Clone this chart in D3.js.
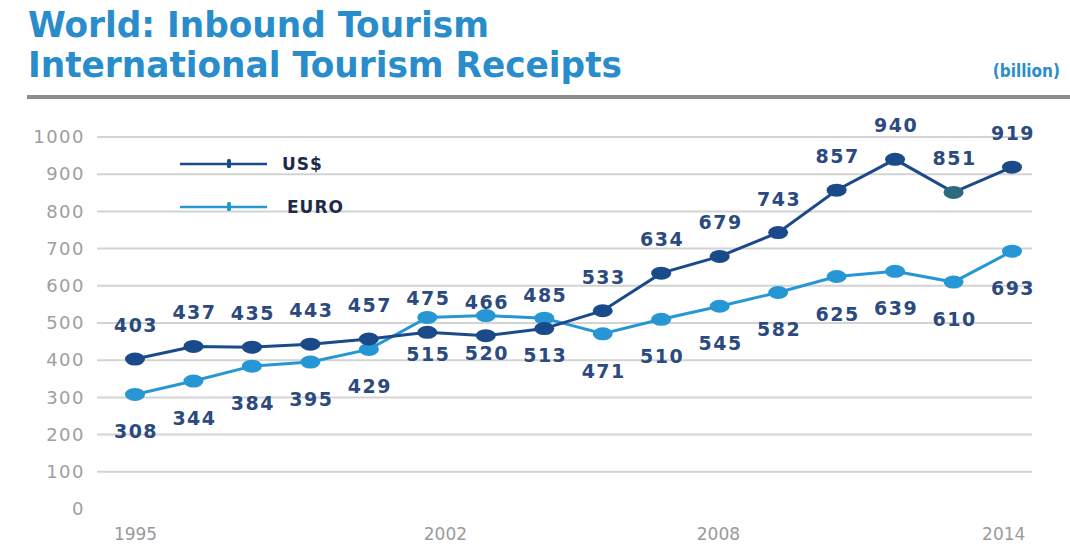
<!DOCTYPE html>
<html>
<head>
<meta charset="utf-8">
<script src="https://cdn.jsdelivr.net/npm/d3@7"></script>
<style>
  html, body { margin: 0; padding: 0; background: #fff; }
  svg { display: block; }
</style>
</head>
<body>
<svg id="chart" width="1070" height="548"></svg>
<script>
// International tourism receipts, billions
const pointIndex = d3.range(16);
const usdValues  = [403, 437, 435, 443, 457, 475, 466, 485, 533, 634, 679, 743, 857, 940, 851, 919];
const euroValues = [308, 344, 384, 395, 429, 515, 520, 513, 471, 510, 545, 582, 625, 639, 610, 693];
const yTicks = [0, 100, 200, 300, 400, 500, 600, 700, 800, 900, 1000];
const yearLabels = ["1995", "2002", "2008", "2014"];
const yearLabelIndex = [0, 5.3, 9.97, 14.85];
const seriesNames = ["US$", "EURO"];

const usdColor = "#1b4a8a";
const euroColor = "#2697d4";
const labelColor = "#2b4a80";
const titleFont = "'DejaVu Sans', sans-serif";

const svg = d3.select("#chart");

// Heading
const titleColor = "#2a8dcb";
function heading(txt, yPos, len) {
  svg.append("text")
    .attr("x", 28).attr("y", yPos)
    .attr("textLength", len).attr("lengthAdjust", "spacingAndGlyphs")
    .style("font-family", titleFont)
    .style("font-stretch", "condensed")
    .style("font-weight", "bold").style("font-size", "35px")
    .attr("fill", titleColor)
    .text(txt);
}
heading("World: Inbound Tourism", 37, 461);
heading("International Tourism Receipts", 77, 594);
svg.append("text")
  .attr("x", 1060).attr("y", 77)
  .attr("text-anchor", "end")
  .style("font-family", titleFont)
  .style("font-stretch", "condensed")
  .style("font-weight", "bold").style("font-size", "17px")
  .attr("fill", titleColor)
  .text("(billion)");
svg.append("rect")
  .attr("x", 27).attr("y", 95).attr("width", 1043).attr("height", 4)
  .attr("fill", "#8c8c8c");

// Scales
const x = d3.scaleLinear().domain([0, 15]).range([135, 1012]);
const y = d3.scaleLinear().domain([0, 1000]).range([509, 137]);

// Value axis and gridlines
const yAxis = d3.axisLeft(y).tickValues(yTicks).tickFormat(d3.format("d")).tickSize(0).tickPadding(12);
const gy = svg.append("g").attr("transform", "translate(97,0)").call(yAxis);
gy.select(".domain").remove();
gy.selectAll("text")
  .style("font-family", "'DejaVu Sans', sans-serif")
  .style("font-size", "18px")
  .style("letter-spacing", "1.5px")
  .attr("fill", "#9e9e9e");

svg.append("g").selectAll("line")
  .data(yTicks.filter(d => d > 0))
  .join("line")
  .attr("x1", 97).attr("x2", 1032)
  .attr("y1", d => y(d)).attr("y2", d => y(d))
  .attr("stroke", "#d3d3d3").attr("stroke-width", 2);

// Year axis
const xAxis = d3.axisBottom(x)
  .tickValues(yearLabelIndex)
  .tickFormat((d, i) => yearLabels[i])
  .tickSize(0).tickPadding(0);
const gx = svg.append("g").attr("transform", "translate(0,528)").call(xAxis);
gx.select(".domain").remove();
gx.selectAll("text")
  .style("font-family", "'DejaVu Sans', sans-serif")
  .style("font-size", "17px")
  .attr("fill", "#9a9a9a");

// Lines and markers
const series = [
  { name: seriesNames[0], values: usdValues, color: usdColor, labelOffset: -34 },
  { name: seriesNames[1], values: euroValues, color: euroColor, labelOffset: 37 }
];
const line = d3.line().x((d, i) => x(pointIndex[i])).y(d => y(d));

series.slice().reverse().forEach(s => {
  svg.append("path")
    .datum(s.values)
    .attr("d", line)
    .attr("fill", "none")
    .attr("stroke", s.color)
    .attr("stroke-width", 3);
});
series.slice().reverse().forEach(s => {
  svg.append("g").selectAll("ellipse")
    .data(s.values)
    .join("ellipse")
    .attr("cx", (d, i) => x(pointIndex[i]))
    .attr("cy", d => y(d))
    .attr("rx", 10).attr("ry", 6.5)
    .attr("fill", (d, i) => (s.name === "US$" && i === 14) ? "#2c6a80" : s.color);
});

// Value labels: US$ above its point, EURO below its point
series.forEach(s => {
  svg.append("g").selectAll("text")
    .data(s.values)
    .join("text")
    .attr("x", (d, i) => x(pointIndex[i]) + 1)
    .attr("y", d => y(d) + s.labelOffset)
    .attr("text-anchor", "middle")
    .attr("dominant-baseline", "central")
    .style("font-family", "'DejaVu Sans', sans-serif")
    .style("font-weight", "bold")
    .style("font-size", "19px")
    .style("letter-spacing", "1.5px")
    .attr("fill", labelColor)
    .text(d => d);
});

// Legend
const legend = svg.append("g");
series.forEach((s, i) => {
  const ly = 164 + i * 43;
  legend.append("line")
    .attr("x1", 180).attr("x2", 267)
    .attr("y1", ly).attr("y2", ly)
    .attr("stroke", s.color).attr("stroke-width", 2.5);
  legend.append("rect")
    .attr("x", 227).attr("y", ly - 5).attr("width", 4).attr("height", 9)
    .attr("rx", 1.5)
    .attr("fill", s.color);
  legend.append("text")
    .attr("x", i === 0 ? 282 : 287).attr("y", ly)
    .attr("dominant-baseline", "central")
    .style("font-family", "'DejaVu Sans', sans-serif")
    .style("font-weight", "bold")
    .style("font-size", "17px")
    .style("letter-spacing", "1px")
    .attr("fill", "#1e2a48")
    .text(s.name);
});
</script>
</body>
</html>
